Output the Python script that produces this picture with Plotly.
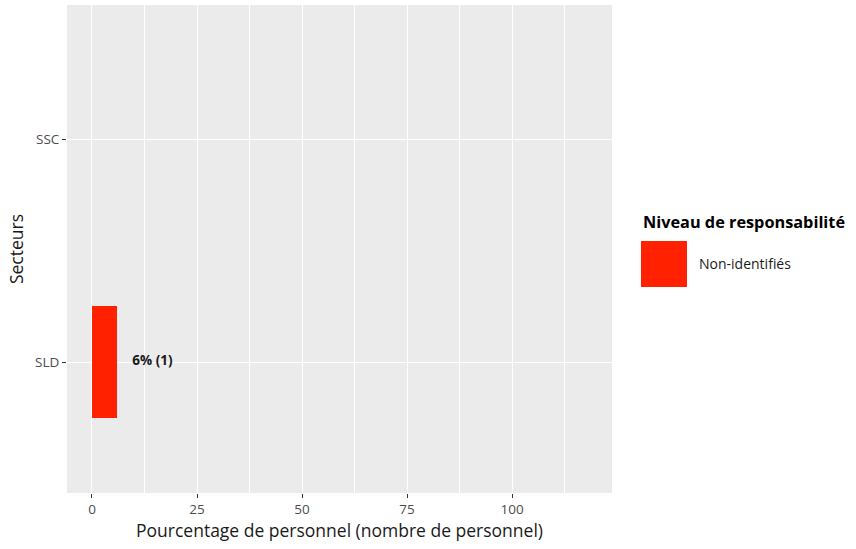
import plotly.graph_objects as go

# Data
sectors = ["SLD", "SSC"]
percent = [6, None]
counts = [1, None]
level = "Non-identifiés"
x_ticks = [0, 25, 50, 75, 100]

bar_color = "#FF2100"
font_family = "'Open Sans', Lato, sans-serif"

labels = [f"{p}% ({c})" if p is not None else "" for p, c in zip(percent, counts)]
label_x = [p + 3.6 if p is not None else None for p in percent]

fig = go.Figure()
fig.add_trace(go.Bar(
    x=percent, y=sectors, orientation="h", width=0.5,
    marker=dict(color=bar_color, line=dict(width=0)),
    name=level, showlegend=False, hoverinfo="skip",
))
fig.add_trace(go.Scatter(
    x=label_x, y=sectors, mode="text", text=labels,
    textposition="middle right",
    textfont=dict(family=font_family, size=13.5, color="#1a1a1a", weight="bold"),
    showlegend=False, hoverinfo="skip",
))

fig.update_layout(
    width=856, height=549,
    margin=dict(l=67, r=244, t=5, b=56),
    paper_bgcolor="white", plot_bgcolor="#EBEBEB",
    font=dict(family=font_family, color="#1a1a1a"),
    bargap=0,
    xaxis=dict(
        range=[-5.95, 123.8], tickvals=x_ticks, ticktext=[str(v) for v in x_ticks],
        showgrid=True, gridcolor="white", gridwidth=1.3,
        minor=dict(tick0=12.5, dtick=25, showgrid=True, gridcolor="white", gridwidth=0.6),
        ticks="outside", ticklen=4, tickcolor="#333333", tickwidth=1,
        tickfont=dict(size=13.5, color="#4D4D4D"),
        title=dict(text="Pourcentage de personnel (nombre de personnel)",
                   font=dict(size=17.5, color="#1a1a1a"), standoff=5),
        zeroline=False, showline=False,
    ),
    yaxis=dict(
        type="category", categoryorder="array", categoryarray=sectors,
        range=[-0.587, 1.601],
        showgrid=True, gridcolor="white", gridwidth=1.3,
        ticks="outside", ticklen=4, tickcolor="#333333", tickwidth=1,
        tickfont=dict(size=13.5, color="#4D4D4D"),
        title=dict(text="Secteurs", font=dict(size=17.5, color="#1a1a1a"), standoff=6),
        zeroline=False, showline=False,
    ),
)

# Legend (drawn to match ggplot's key size)
fig.add_shape(type="rect", xref="paper", yref="paper",
              x0=1.0532, x1=1.1376, y0=0.4221, y1=0.5164,
              fillcolor=bar_color, line=dict(width=0))
fig.add_annotation(xref="paper", yref="paper", x=1.0532, y=0.5553,
                   xanchor="left", yanchor="middle", showarrow=False,
                   text="<b>Niveau de responsabilité</b>",
                   font=dict(family=font_family, size=16.3, color="#000000"))
fig.add_annotation(xref="paper", yref="paper", x=1.156, y=0.4693,
                   xanchor="left", yanchor="middle", showarrow=False,
                   text=level, font=dict(family=font_family, size=14, color="#1a1a1a"))

fig.write_html("out.html", config={"displayModeBar": False},
               post_script="document.body.style.margin='0';")
